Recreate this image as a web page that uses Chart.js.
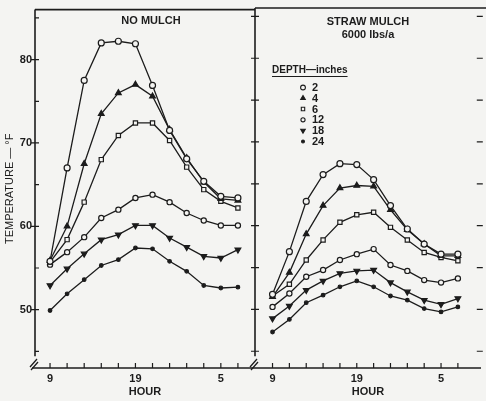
<!DOCTYPE html>
<html>
<head>
<meta charset="utf-8">
<script src="https://cdn.jsdelivr.net/npm/chart.js@4.4.1/dist/chart.umd.min.js"></script>
<style>
    body { margin: 0; background: #f4f4f2; }
    #wrap { position: relative; width: 486px; height: 401px; }
    #wrap canvas { position: absolute; left: 0; top: 0; }
</style>
</head>
<body>
<div id="wrap">
    <canvas id="left" width="486" height="401"></canvas>
    <canvas id="right" width="486" height="401"></canvas>
</div>
<script>
// DATA
const hours = [9, 11, 13, 15, 17, 19, 21, 23, 1, 3, 5, 7];
const hourLabels = ['9', '', '', '', '', '19', '', '', '', '', '5', ''];
const yTicks = [45, 50, 55, 60, 65, 70, 75, 80, 85];
const yLabels = [50, 60, 70, 80];
const depths = ['2', '4', '6', '12', '18', '24'];

// no mulch, deg F
const noMulch2 = [55.8, 67.0, 77.5, 82.0, 82.2, 81.9, 76.9, 71.5, 68.1, 65.4, 63.6, 63.4];
const noMulch4 = [55.9, 60.0, 67.5, 73.5, 76.0, 77.0, 75.6, 71.6, 68.2, 65.3, 63.3, 63.1];
const noMulch6 = [55.7, 58.4, 62.9, 68.0, 70.9, 72.4, 72.4, 70.3, 67.1, 64.4, 63.0, 62.2];
const noMulch12 = [55.4, 56.9, 58.7, 61.0, 62.0, 63.4, 63.8, 62.9, 61.6, 60.7, 60.1, 60.1];
const noMulch18 = [52.9, 54.9, 56.7, 58.4, 59.0, 60.1, 60.1, 58.6, 57.5, 56.4, 56.2, 57.2];
const noMulch24 = [49.9, 51.9, 53.6, 55.3, 56.0, 57.4, 57.3, 55.8, 54.6, 52.9, 52.6, 52.7];

// straw mulch 6000 lbs/a, deg F
const straw2 = [51.8, 56.9, 62.9, 66.1, 67.4, 67.3, 65.5, 62.4, 59.6, 57.8, 56.6, 56.6];
const straw4 = [51.5, 54.4, 59.0, 62.4, 64.5, 64.8, 64.7, 61.9, 59.5, 57.8, 56.4, 56.4];
const straw6 = [51.6, 53.0, 55.9, 58.3, 60.4, 61.3, 61.6, 59.8, 58.3, 56.8, 56.2, 55.8];
const straw12 = [50.3, 51.9, 53.9, 54.7, 55.9, 56.6, 57.2, 55.3, 54.6, 53.5, 53.2, 53.7];
const straw18 = [48.9, 50.4, 52.3, 53.4, 54.3, 54.6, 54.7, 53.2, 52.1, 51.1, 50.6, 51.3];
const straw24 = [47.3, 48.8, 50.8, 51.7, 52.7, 53.4, 52.7, 51.6, 51.1, 50.1, 49.7, 50.3];

const INK = '#1c1c1c';
const PAPER = '#f4f4f2';
const FONT = '"Liberation Sans", Arial, sans-serif';

// marker look per depth
const markers = [
    {pointStyle: 'circle', radius: 3, fill: PAPER, rotation: 0},
    {pointStyle: 'triangle', radius: 3.3, fill: INK, rotation: 0},
    {pointStyle: 'rect', radius: 3, fill: PAPER, rotation: 0},
    {pointStyle: 'circle', radius: 2.6, fill: PAPER, rotation: 0},
    {pointStyle: 'triangle', radius: 3.3, fill: INK, rotation: 180},
    {pointStyle: 'circle', radius: 1.8, fill: INK, rotation: 0},
];

function makeDatasets(series) {
    return series.map((vals, k) => ({
        label: depths[k],
        data: vals.map((v, i) => ({x: i, y: v})),
        borderColor: INK,
        borderWidth: 1.3,
        pointStyle: markers[k].pointStyle,
        pointRadius: markers[k].radius,
        pointRotation: markers[k].rotation,
        pointBackgroundColor: markers[k].fill,
        pointBorderColor: INK,
        pointBorderWidth: 1.2,
        tension: 0,
    }));
}

// frame, ticks, break marks and panel text
const panelPlugin = {
    id: 'panel',
    beforeDatasetsDraw(chart, args, opts) {
        const {ctx, chartArea: a, scales: {x, y}} = chart;
        ctx.save();
        ctx.strokeStyle = INK;
        ctx.lineWidth = 1.6;
        ctx.lineCap = 'butt';

        // top frame
        ctx.beginPath();
        ctx.moveTo(a.left, a.top);
        ctx.lineTo(opts.side === 'right' ? 486 : a.right, a.top);
        ctx.stroke();

        // vertical axis with break
        const cut = y.getPixelForValue(44.4);
        ctx.beginPath();
        ctx.moveTo(a.left, a.top);
        ctx.lineTo(a.left, cut);
        ctx.stroke();
        ctx.lineWidth = 1.3;
        ctx.beginPath();
        ctx.moveTo(a.left - 5, a.bottom - 1);
        ctx.lineTo(a.left + 2, a.bottom - 9);
        ctx.moveTo(a.left - 4, a.bottom + 2);
        ctx.lineTo(a.left + 3, a.bottom - 6);
        ctx.stroke();

        // bottom axis
        ctx.lineWidth = 1.6;
        ctx.beginPath();
        ctx.moveTo(opts.side === 'right' ? a.left : a.left - 3, a.bottom);
        ctx.lineTo(opts.side === 'right' ? 481 : a.right, a.bottom);
        ctx.stroke();

        // y ticks
        ctx.lineWidth = 1.2;
        ctx.beginPath();
        yTicks.forEach(v => {
            const py = y.getPixelForValue(v);
            const major = v % 10 === 0;
            ctx.moveTo(opts.side === 'left' && !major ? a.left : a.left - 4, py);
            ctx.lineTo(a.left + 4, py);
            if (opts.side === 'right') {
                ctx.moveTo(a.right - 4, py);
                ctx.lineTo(a.right + 2, py);
            }
        });
        // x ticks, pointing inward
        hours.forEach((h, i) => {
            const px = x.getPixelForValue(i);
            ctx.moveTo(px, a.bottom);
            ctx.lineTo(px, a.bottom - 5);
        });
        ctx.stroke();

        // panel titles
        ctx.fillStyle = INK;
        ctx.textAlign = 'center';
        ctx.textBaseline = 'middle';
        ctx.font = 'bold 11px ' + FONT;
        opts.titles.forEach(t => ctx.fillText(t.text, t.x, t.y));

        // depth key
        if (opts.key) {
            ctx.textAlign = 'left';
            ctx.font = 'bold 10px ' + FONT;
            const head = 'DEPTH\u2014inches';
            ctx.fillText(head, 272, 70);
            const w = ctx.measureText(head).width;
            ctx.lineWidth = 1;
            ctx.beginPath();
            ctx.moveTo(272, 76.5);
            ctx.lineTo(272 + w, 76.5);
            ctx.stroke();
            ctx.font = 'bold 11px ' + FONT;
            const rows = [87.5, 98.2, 109, 119.8, 130.6, 141.4];
            depths.forEach((d, k) => {
                const m = markers[k];
                ctx.fillStyle = m.fill;
                ctx.lineWidth = 1.1;
                Chart.helpers.drawPoint(ctx, {
                    pointStyle: m.pointStyle,
                    radius: m.radius * 0.8,
                    rotation: m.rotation,
                    borderWidth: 1.1,
                }, 303, rows[k]);
                ctx.fillStyle = INK;
                ctx.fillText(d, 312, rows[k] + 0.5);
            });
        }
        ctx.restore();
    }
};

function xScale(min, max) {
    return {
        type: 'linear',
        min: min,
        max: max,
        afterBuildTicks: s => { s.ticks = hours.map((h, i) => ({value: i})); },
        afterFit: s => { s.height = 33; },
        ticks: {
            callback: v => hourLabels[v],
            autoSkip: false,
            maxRotation: 0,
            padding: 4,
            color: INK,
            font: {family: FONT, size: 11, weight: 'bold'},
        },
        grid: {display: false, drawTicks: false},
        border: {display: false},
        title: {
            display: true,
            text: 'HOUR',
            color: INK,
            font: {family: FONT, size: 11, weight: 'bold'},
            padding: {top: 0, bottom: 2},
        },
    };
}

function baseOptions(side) {
    return {
        responsive: false,
        animation: false,
        devicePixelRatio: 1,
        events: [],
        layout: {
            padding: side === 'left'
                ? {top: 8, right: 231, left: 0, bottom: 0}
                : {top: 8, right: 2, left: 255, bottom: 0},
        },
        plugins: {
            legend: {display: false},
            tooltip: {enabled: false},
            panel: side === 'left'
                ? {side: 'left', key: false, titles: [{text: 'NO MULCH', x: 151, y: 21}]}
                : {side: 'right', key: true, titles: [{text: 'STRAW MULCH', x: 368, y: 22}, {text: '6000 lbs/a', x: 368, y: 35}]},
        },
    };
}

const leftOptions = baseOptions('left');
leftOptions.scales = {
    x: xScale(-0.88, 12),
    y: {
        min: 43,
        max: 86,
        afterBuildTicks: s => { s.ticks = yLabels.map(v => ({value: v})); },
        afterFit: s => { s.width = 35; },
        ticks: {
            callback: v => String(v),
            padding: 3,
            color: INK,
            font: {family: FONT, size: 11, weight: 'bold'},
        },
        grid: {display: false, drawTicks: false},
        border: {display: false},
        title: {
            display: true,
            text: 'TEMPERATURE \u2014 \u00B0F',
            color: INK,
            font: {family: FONT, size: 11},
            padding: {top: 3, bottom: 0},
        },
    },
};

const rightOptions = baseOptions('right');
rightOptions.scales = {
    x: xScale(-1.04, 12.36),
    y: {min: 43, max: 86, display: false},
};

new Chart(document.getElementById('left'), {
    type: 'line',
    data: {datasets: makeDatasets([noMulch2, noMulch4, noMulch6, noMulch12, noMulch18, noMulch24])},
    options: leftOptions,
    plugins: [panelPlugin],
});

new Chart(document.getElementById('right'), {
    type: 'line',
    data: {datasets: makeDatasets([straw2, straw4, straw6, straw12, straw18, straw24])},
    options: rightOptions,
    plugins: [panelPlugin],
});
</script>
</body>
</html>
